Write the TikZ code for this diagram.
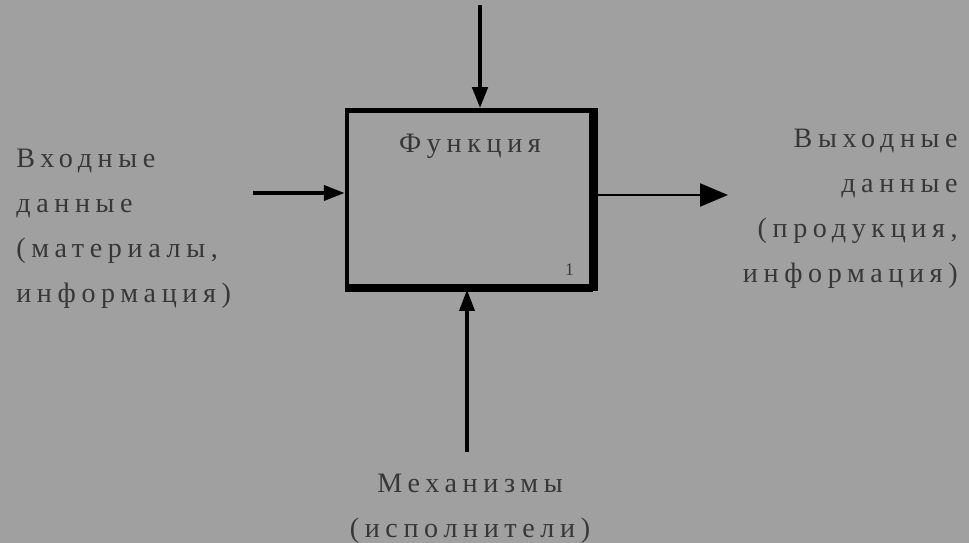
\documentclass[tikz,border=0pt]{standalone}
\usepackage{fontspec}
\setmainfont[LetterSpace=20]{Liberation Serif}
\usetikzlibrary{positioning, arrows.meta}
\definecolor{bggray}{RGB}{160,160,160}
\definecolor{txtgray}{RGB}{55,55,55}
\begin{document}
\begin{tikzpicture}[
        x=0.02cm, y=-0.02cm,
        func/.style={draw, rectangle, line width=2.6pt, minimum width=4.92cm, minimum height=3.54cm},
        lbl/.style={text=txtgray, font=\fontsize{16}{25.5}\selectfont, inner sep=0pt},
        arrow/.style={-{Triangle[length=0.42cm, width=0.3cm]}, line width=2.4pt}
    ]
    \fill[bggray] (0,0) rectangle (969,543);
    \useasboundingbox (0,0) rectangle (969,543);

    \node[func] (Func) at (470,199) {};
    \draw[line width=5pt] ([xshift=-0.04cm]Func.north east) -- ([xshift=-0.04cm,yshift=-0.02cm]Func.south east);
    \draw[line width=4.5pt] ([yshift=0.03cm]Func.south west) -- ([xshift=-0.04cm,yshift=0.03cm]Func.south east);

    \node[lbl, below=0.52cm of Func.north] (Title) {Функция};
    \node[lbl, font=\fontsize{10}{12}\selectfont, above left=0.28cm and 0.42cm of Func.south east] (Num) {1};

    \node[lbl, anchor=north west, align=left] (Inp) at (16,149) {Входные\\данные\\(материалы,\\информация)};
    \node[lbl, anchor=north east, align=right] (Outp) at (958,129) {Выходные\\данные\\(продукция,\\информация)};
    \node[lbl, anchor=north, align=center] (Mech) at (470,474) {Механизмы\\(исполнители)};

    \coordinate (ctlA) at (480,5);
    \coordinate (inA) at (253,193);
    \coordinate (outA) at (728,195);
    \coordinate (mechA) at (467,452);

    \draw[arrow] (ctlA) -- (ctlA |- Func.north);
    \draw[arrow, line width=2.2pt] (inA) -- (inA -| Func.west);
    \draw[-{Triangle[length=0.56cm, width=0.46cm]}, line width=1.3pt] (outA -| Func.east) -- (outA);
    \draw[arrow, line width=1.8pt] (mechA) -- (mechA |- Func.south);
\end{tikzpicture}
\end{document}
